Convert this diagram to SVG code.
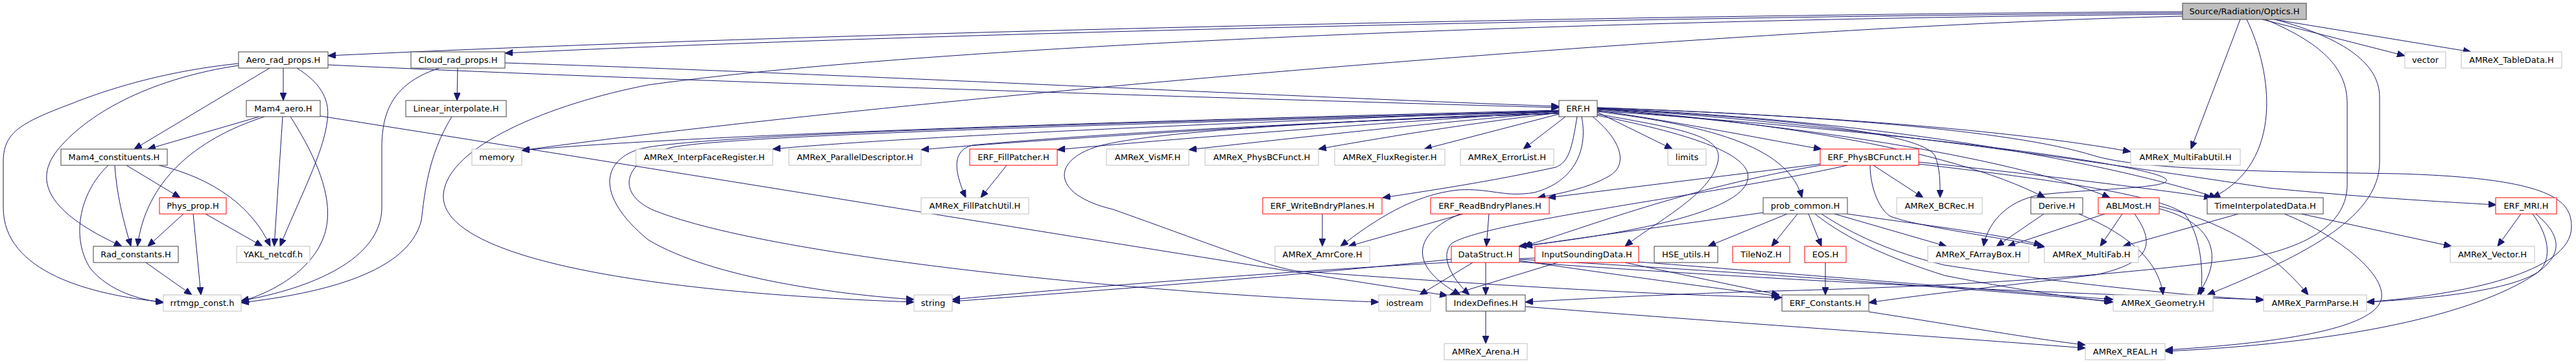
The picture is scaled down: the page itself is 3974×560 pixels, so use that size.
<svg xmlns="http://www.w3.org/2000/svg" width="3974" height="560" viewBox="0 0 3974 560">
<style>
.node rect{fill:#fff;stroke-width:1}
.doc rect{stroke:#404040}
.ext rect{stroke:#bfbfbf}
.red rect{stroke:#ff0000}
.root rect{fill:#bfbfbf;stroke:#404040}
.node text{font-family:"DejaVu Sans","Liberation Sans",sans-serif;font-size:13px;text-anchor:middle;fill:#000}
#edges path{fill:none;stroke:#191970;stroke-width:1;marker-end:url(#arr)}
</style>
<defs>
<marker id="arr" viewBox="0 0 12 10" refX="12" refY="5" markerWidth="12" markerHeight="10" markerUnits="userSpaceOnUse" orient="auto">
<path d="M0,0 L12,5 L0,10 z" fill="#191970" stroke="#191970"/>
</marker>
</defs>
<rect width="3974" height="560" fill="#fff"/>
<g id="edges">
<path d="M3367,18 C2600,22 1300,48 506,86"/>
<path d="M3367,20 C2600,25 1450,50 779,82"/>
<path d="M3367,22 C2600,28 1500,62 1000,131 C850,160 690,225 684,300 C678,390 950,450 1410,466"/>
<path d="M3367,25 C2700,40 1400,150 805,232"/>
<path d="M3490,30 L3710,86"/>
<path d="M3508,30 L3812,80"/>
<path d="M3456,30 L3380,230"/>
<path d="M3466,30 C3505,110 3525,250 3413,305"/>
<path d="M3495,30 C3590,70 3621,110 3621,160 L3621,285 C3621,345 3560,380 3474,397 C3200,435 2900,445 2700,450 C2550,455 2420,462 2353,466"/>
<path d="M3510,30 C3620,60 3671,100 3671,150 L3671,250 C3671,340 3540,400 3405,455"/>
<path d="M506,100 C1000,124 1900,152 2405,166"/>
<path d="M779,97 C1300,114 2000,150 2405,164"/>
<path d="M368,98 C250,110 160,140 110,160 C30,190 5,205 5,250 L5,320 C5,420 140,455 252,466"/>
<path d="M368,101 C240,120 140,170 90,230 C40,290 100,340 188,380"/>
<path d="M416,105 L207,230"/>
<path d="M437,105 L437,155"/>
<path d="M458,105 C490,125 510,150 505,185 C500,235 460,310 432,380"/>
<path d="M400,180 L228,230"/>
<path d="M408,180 C300,215 225,280 212,380"/>
<path d="M436,180 L423,380"/>
<path d="M448,180 C480,230 510,290 505,340 C500,400 440,445 372,465"/>
<path d="M494,179 C1200,290 1800,390 2233,456"/>
<path d="M167,255 C120,300 110,370 140,415 C170,450 215,462 252,467"/>
<path d="M177,255 C180,300 190,340 202,380"/>
<path d="M195,255 L278,305"/>
<path d="M245,255 C330,275 390,320 417,380"/>
<path d="M283,330 L228,380"/>
<path d="M298,330 L310,455"/>
<path d="M317,330 L405,380"/>
<path d="M225,405 L296,455"/>
<path d="M706,105 L705,155"/>
<path d="M678,105 C600,130 589,180 589,230 L589,320 C589,400 480,445 372,464"/>
<path d="M697,180 C660,240 655,300 650,340 C630,420 500,452 372,467"/>
<path d="M2405,170 C1900,183 1100,205 805,232"/>
<path d="M2405,171 C2000,185 1400,210 1192,230"/>
<path d="M2405,172 C2100,185 1600,215 1421,231"/>
<path d="M2405,172 C2150,188 1800,215 1631,231"/>
<path d="M2405,173 C2200,190 1950,218 1834,231"/>
<path d="M2405,174 C2250,192 2100,218 2034,230"/>
<path d="M2405,176 L2197,230"/>
<path d="M2415,180 L2350,230"/>
<path d="M2405,171 C1800,188 1100,205 990,229 C930,245 915,300 1000,370 C1100,430 1300,455 1410,462"/>
<path d="M2405,172 C1800,190 1100,208 1030,229 C960,250 950,300 1010,325 C1200,400 1800,455 2127,466"/>
<path d="M2405,175 C2100,185 1700,205 1500,224 C1470,232 1470,260 1490,305"/>
<path d="M2405,175 C2100,185 1800,200 1700,224 C1620,245 1620,300 1717,323 C1850,370 1950,410 2000,418 C2300,440 2550,455 2749,459"/>
<path d="M2433,180 C2425,230 2420,250 2400,258 C2300,280 2200,295 2133,305"/>
<path d="M2457,180 C2500,215 2515,255 2480,273 C2450,290 2410,298 2372,305"/>
<path d="M2440,180 C2450,230 2430,280 2367,297 C2320,305 2300,290 2250,293 C2180,300 2120,340 2068,380"/>
<path d="M2464,173 L2580,230"/>
<path d="M2464,170 C2600,190 2750,220 2810,230"/>
<path d="M2464,172 C2650,195 2760,230 2780,305"/>
<path d="M2464,176 C2600,200 2660,210 2650,250 C2640,300 2550,345 2507,380"/>
<path d="M2464,178 C2650,215 2720,250 2690,290 C2650,340 2450,368 2343,380"/>
<path d="M2464,167 C2700,180 2960,200 2985,240 C2993,260 2993,280 2993,305"/>
<path d="M2464,168 C2700,185 3000,225 3155,305"/>
<path d="M2464,169 C2750,190 3100,240 3255,305"/>
<path d="M2464,166 C2800,178 3100,200 3287,234"/>
<path d="M2464,167 C2900,185 3250,250 3420,305"/>
<path d="M2464,168 C2800,185 3200,245 3500,290 C3650,305 3780,312 3851,316"/>
<path d="M2464,166 C2800,178 3100,200 3230,240 C3300,262 3500,265 3700,268 C3940,275 3967,310 3967,350 C3967,420 3800,455 3651,466"/>
<path d="M2464,171 C2900,200 3300,250 3340,275 C3360,290 3250,290 3150,300 C3090,310 3065,350 3060,380"/>
<path d="M2808,253 L2388,305"/>
<path d="M2808,255 C2600,290 2450,350 2350,380"/>
<path d="M2850,255 C2650,300 2300,340 2240,375 C2220,395 2240,430 2267,455"/>
<path d="M2890,255 L2967,305"/>
<path d="M2885,255 C2885,290 2900,325 2917,334 C2960,350 3080,365 3155,381"/>
<path d="M2960,250 C3150,270 3350,295 3412,305"/>
<path d="M2960,253 C3150,275 3330,300 3370,330 C3395,360 3400,420 3395,455"/>
<path d="M2757,330 L2635,380"/>
<path d="M2773,330 L2733,380"/>
<path d="M2790,330 L2810,380"/>
<path d="M2800,330 C2850,370 2920,400 3000,425 C3100,445 3200,460 3260,466"/>
<path d="M2810,330 C2870,370 2940,395 3000,409 C3200,440 3400,458 3492,463"/>
<path d="M2830,330 L3003,380"/>
<path d="M2850,330 C2950,345 3080,360 3150,378"/>
<path d="M2720,328 C2600,345 2450,365 2352,380"/>
<path d="M3153,330 L3080,380"/>
<path d="M3207,330 C3280,360 3330,400 3337,455"/>
<path d="M3247,330 L3097,380"/>
<path d="M3274,330 L3240,380"/>
<path d="M3331,322 C3420,345 3430,400 3390,455"/>
<path d="M3331,318 C3420,340 3500,380 3561,455"/>
<path d="M3293,330 C3325,375 3320,405 3233,424 C3100,440 2960,455 2883,467"/>
<path d="M3453,330 L3275,380"/>
<path d="M3550,330 L3782,380"/>
<path d="M3524,330 C3600,360 3680,420 3674,460 C3665,510 3500,530 3340,540"/>
<path d="M3889,330 L3853,380"/>
<path d="M3907,330 C3930,360 3940,400 3915,420 C3860,455 3700,463 3651,466"/>
<path d="M3912,330 C3960,370 3950,400 3900,430 C3800,490 3600,530 3340,542"/>
<path d="M2239,400 C2000,425 1700,448 1469,465"/>
<path d="M2272,405 L2190,455"/>
<path d="M2292,405 L2292,455"/>
<path d="M2344,402 C2500,425 2650,445 2745,457"/>
<path d="M2344,400 C2700,420 3100,450 3258,465"/>
<path d="M2344,404 C2700,430 3200,455 3492,462"/>
<path d="M2368,398 C2100,410 1700,440 1469,462"/>
<path d="M2403,405 L2235,456"/>
<path d="M2507,405 L2745,455"/>
<path d="M2527,404 C2800,425 3100,450 3260,462"/>
<path d="M2257,330 L2080,380"/>
<path d="M2297,330 L2293,380"/>
<path d="M2253,330 C2180,360 2170,410 2253,455"/>
<path d="M2040,330 L2040,380"/>
<path d="M2816,405 L2816,455"/>
<path d="M2292,480 L2292,530"/>
<path d="M2353,473 C2700,500 3000,520 3217,537"/>
<path d="M2883,481 C3000,499 3150,525 3217,532"/>
<path d="M1553,255 L1513,305"/>
</g>
<g id="n_optics" class="node root"><rect x="3367" y="5" width="191" height="25"/><text x="3462.5" y="22">Source/Radiation/Optics.H</text></g>
<g id="n_aero" class="node doc"><rect x="368" y="80" width="138" height="25"/><text x="437" y="97">Aero_rad_props.H</text></g>
<g id="n_cloud" class="node doc"><rect x="634" y="80" width="145" height="25"/><text x="706.5" y="97">Cloud_rad_props.H</text></g>
<g id="n_vector" class="node ext"><rect x="3710" y="80" width="63" height="25"/><text x="3741.5" y="97">vector</text></g>
<g id="n_tabledata" class="node ext"><rect x="3797" y="80" width="155" height="25"/><text x="3874.5" y="97">AMReX_TableData.H</text></g>
<g id="n_mam4aero" class="node doc"><rect x="380" y="155" width="114" height="25"/><text x="437" y="172">Mam4_aero.H</text></g>
<g id="n_linint" class="node doc"><rect x="626" y="155" width="155" height="25"/><text x="703.5" y="172">Linear_interpolate.H</text></g>
<g id="n_erf" class="node doc"><rect x="2405" y="155" width="59" height="25"/><text x="2434.5" y="172">ERF.H</text></g>
<g id="n_mam4const" class="node doc"><rect x="94" y="230" width="164" height="25"/><text x="176" y="247">Mam4_constituents.H</text></g>
<g id="n_memory" class="node ext"><rect x="728" y="230" width="77" height="25"/><text x="766.5" y="247">memory</text></g>
<g id="n_interpface" class="node ext"><rect x="981" y="230" width="211" height="25"/><text x="1086.5" y="247">AMReX_InterpFaceRegister.H</text></g>
<g id="n_paralleldesc" class="node ext"><rect x="1217" y="230" width="204" height="25"/><text x="1319" y="247">AMReX_ParallelDescriptor.H</text></g>
<g id="n_fillpatcher" class="node red"><rect x="1496" y="230" width="135" height="25"/><text x="1563.5" y="247">ERF_FillPatcher.H</text></g>
<g id="n_vismf" class="node ext"><rect x="1707" y="230" width="127" height="25"/><text x="1770.5" y="247">AMReX_VisMF.H</text></g>
<g id="n_physbcamrex" class="node ext"><rect x="1859" y="230" width="175" height="25"/><text x="1946.5" y="247">AMReX_PhysBCFunct.H</text></g>
<g id="n_fluxreg" class="node ext"><rect x="2059" y="230" width="170" height="25"/><text x="2144" y="247">AMReX_FluxRegister.H</text></g>
<g id="n_errorlist" class="node ext"><rect x="2253" y="230" width="144" height="25"/><text x="2325" y="247">AMReX_ErrorList.H</text></g>
<g id="n_limits" class="node ext"><rect x="2573" y="230" width="59" height="25"/><text x="2602.5" y="247">limits</text></g>
<g id="n_erfphysbc" class="node red"><rect x="2808" y="230" width="152" height="25"/><text x="2884" y="247">ERF_PhysBCFunct.H</text></g>
<g id="n_multifabutil" class="node ext"><rect x="3287" y="230" width="169" height="25"/><text x="3371.5" y="247">AMReX_MultiFabUtil.H</text></g>
<g id="n_physprop" class="node red"><rect x="246" y="305" width="103" height="25"/><text x="297.5" y="322">Phys_prop.H</text></g>
<g id="n_fillpatchutil" class="node ext"><rect x="1421" y="305" width="166" height="25"/><text x="1504" y="322">AMReX_FillPatchUtil.H</text></g>
<g id="n_writebndry" class="node red"><rect x="1948" y="305" width="184" height="25"/><text x="2040" y="322">ERF_WriteBndryPlanes.H</text></g>
<g id="n_readbndry" class="node red"><rect x="2207" y="305" width="183" height="25"/><text x="2298.5" y="322">ERF_ReadBndryPlanes.H</text></g>
<g id="n_probcommon" class="node doc"><rect x="2720" y="305" width="130" height="25"/><text x="2785" y="322">prob_common.H</text></g>
<g id="n_bcrec" class="node ext"><rect x="2926" y="305" width="132" height="25"/><text x="2992" y="322">AMReX_BCRec.H</text></g>
<g id="n_derive" class="node doc"><rect x="3133" y="305" width="80" height="25"/><text x="3173" y="322">Derive.H</text></g>
<g id="n_ablmost" class="node red"><rect x="3237" y="305" width="94" height="25"/><text x="3284" y="322">ABLMost.H</text></g>
<g id="n_timeinterp" class="node doc"><rect x="3405" y="305" width="179" height="25"/><text x="3494.5" y="322">TimeInterpolatedData.H</text></g>
<g id="n_erfmri" class="node red"><rect x="3850" y="305" width="94" height="25"/><text x="3897" y="322">ERF_MRI.H</text></g>
<g id="n_radconst" class="node doc"><rect x="144" y="380" width="131" height="25"/><text x="209.5" y="397">Rad_constants.H</text></g>
<g id="n_yakl" class="node ext"><rect x="365" y="380" width="113" height="25"/><text x="421.5" y="397">YAKL_netcdf.h</text></g>
<g id="n_amrcore" class="node ext"><rect x="1967" y="380" width="146" height="25"/><text x="2040" y="397">AMReX_AmrCore.H</text></g>
<g id="n_datastruct" class="node red"><rect x="2239" y="380" width="105" height="25"/><text x="2291.5" y="397">DataStruct.H</text></g>
<g id="n_inputsounding" class="node red"><rect x="2368" y="380" width="160" height="25"/><text x="2448" y="397">InputSoundingData.H</text></g>
<g id="n_hse" class="node doc"><rect x="2552" y="380" width="98" height="25"/><text x="2601" y="397">HSE_utils.H</text></g>
<g id="n_tilenoz" class="node red"><rect x="2673" y="380" width="88" height="25"/><text x="2717" y="397">TileNoZ.H</text></g>
<g id="n_eos" class="node red"><rect x="2784" y="380" width="64" height="25"/><text x="2816" y="397">EOS.H</text></g>
<g id="n_farraybox" class="node ext"><rect x="2974" y="380" width="156" height="25"/><text x="3052" y="397">AMReX_FArrayBox.H</text></g>
<g id="n_multifab" class="node ext"><rect x="3154" y="380" width="145" height="25"/><text x="3226.5" y="397">AMReX_MultiFab.H</text></g>
<g id="n_amrexvector" class="node ext"><rect x="3780" y="380" width="130" height="25"/><text x="3845" y="397">AMReX_Vector.H</text></g>
<g id="n_rrtmgp" class="node ext"><rect x="252" y="455" width="120" height="25"/><text x="312" y="472">rrtmgp_const.h</text></g>
<g id="n_string" class="node ext"><rect x="1410" y="455" width="59" height="25"/><text x="1439.5" y="472">string</text></g>
<g id="n_iostream" class="node ext"><rect x="2127" y="455" width="80" height="25"/><text x="2167" y="472">iostream</text></g>
<g id="n_indexdefines" class="node doc"><rect x="2231" y="455" width="122" height="25"/><text x="2292" y="472">IndexDefines.H</text></g>
<g id="n_erfconst" class="node doc"><rect x="2749" y="455" width="134" height="25"/><text x="2816" y="472">ERF_Constants.H</text></g>
<g id="n_geometry" class="node ext"><rect x="3260" y="455" width="154" height="25"/><text x="3337" y="472">AMReX_Geometry.H</text></g>
<g id="n_parmparse" class="node ext"><rect x="3492" y="455" width="159" height="25"/><text x="3571.5" y="472">AMReX_ParmParse.H</text></g>
<g id="n_arena" class="node ext"><rect x="2228" y="530" width="128" height="25"/><text x="2292" y="547">AMReX_Arena.H</text></g>
<g id="n_real" class="node ext"><rect x="3217" y="530" width="123" height="25"/><text x="3278.5" y="547">AMReX_REAL.H</text></g>
</svg>
